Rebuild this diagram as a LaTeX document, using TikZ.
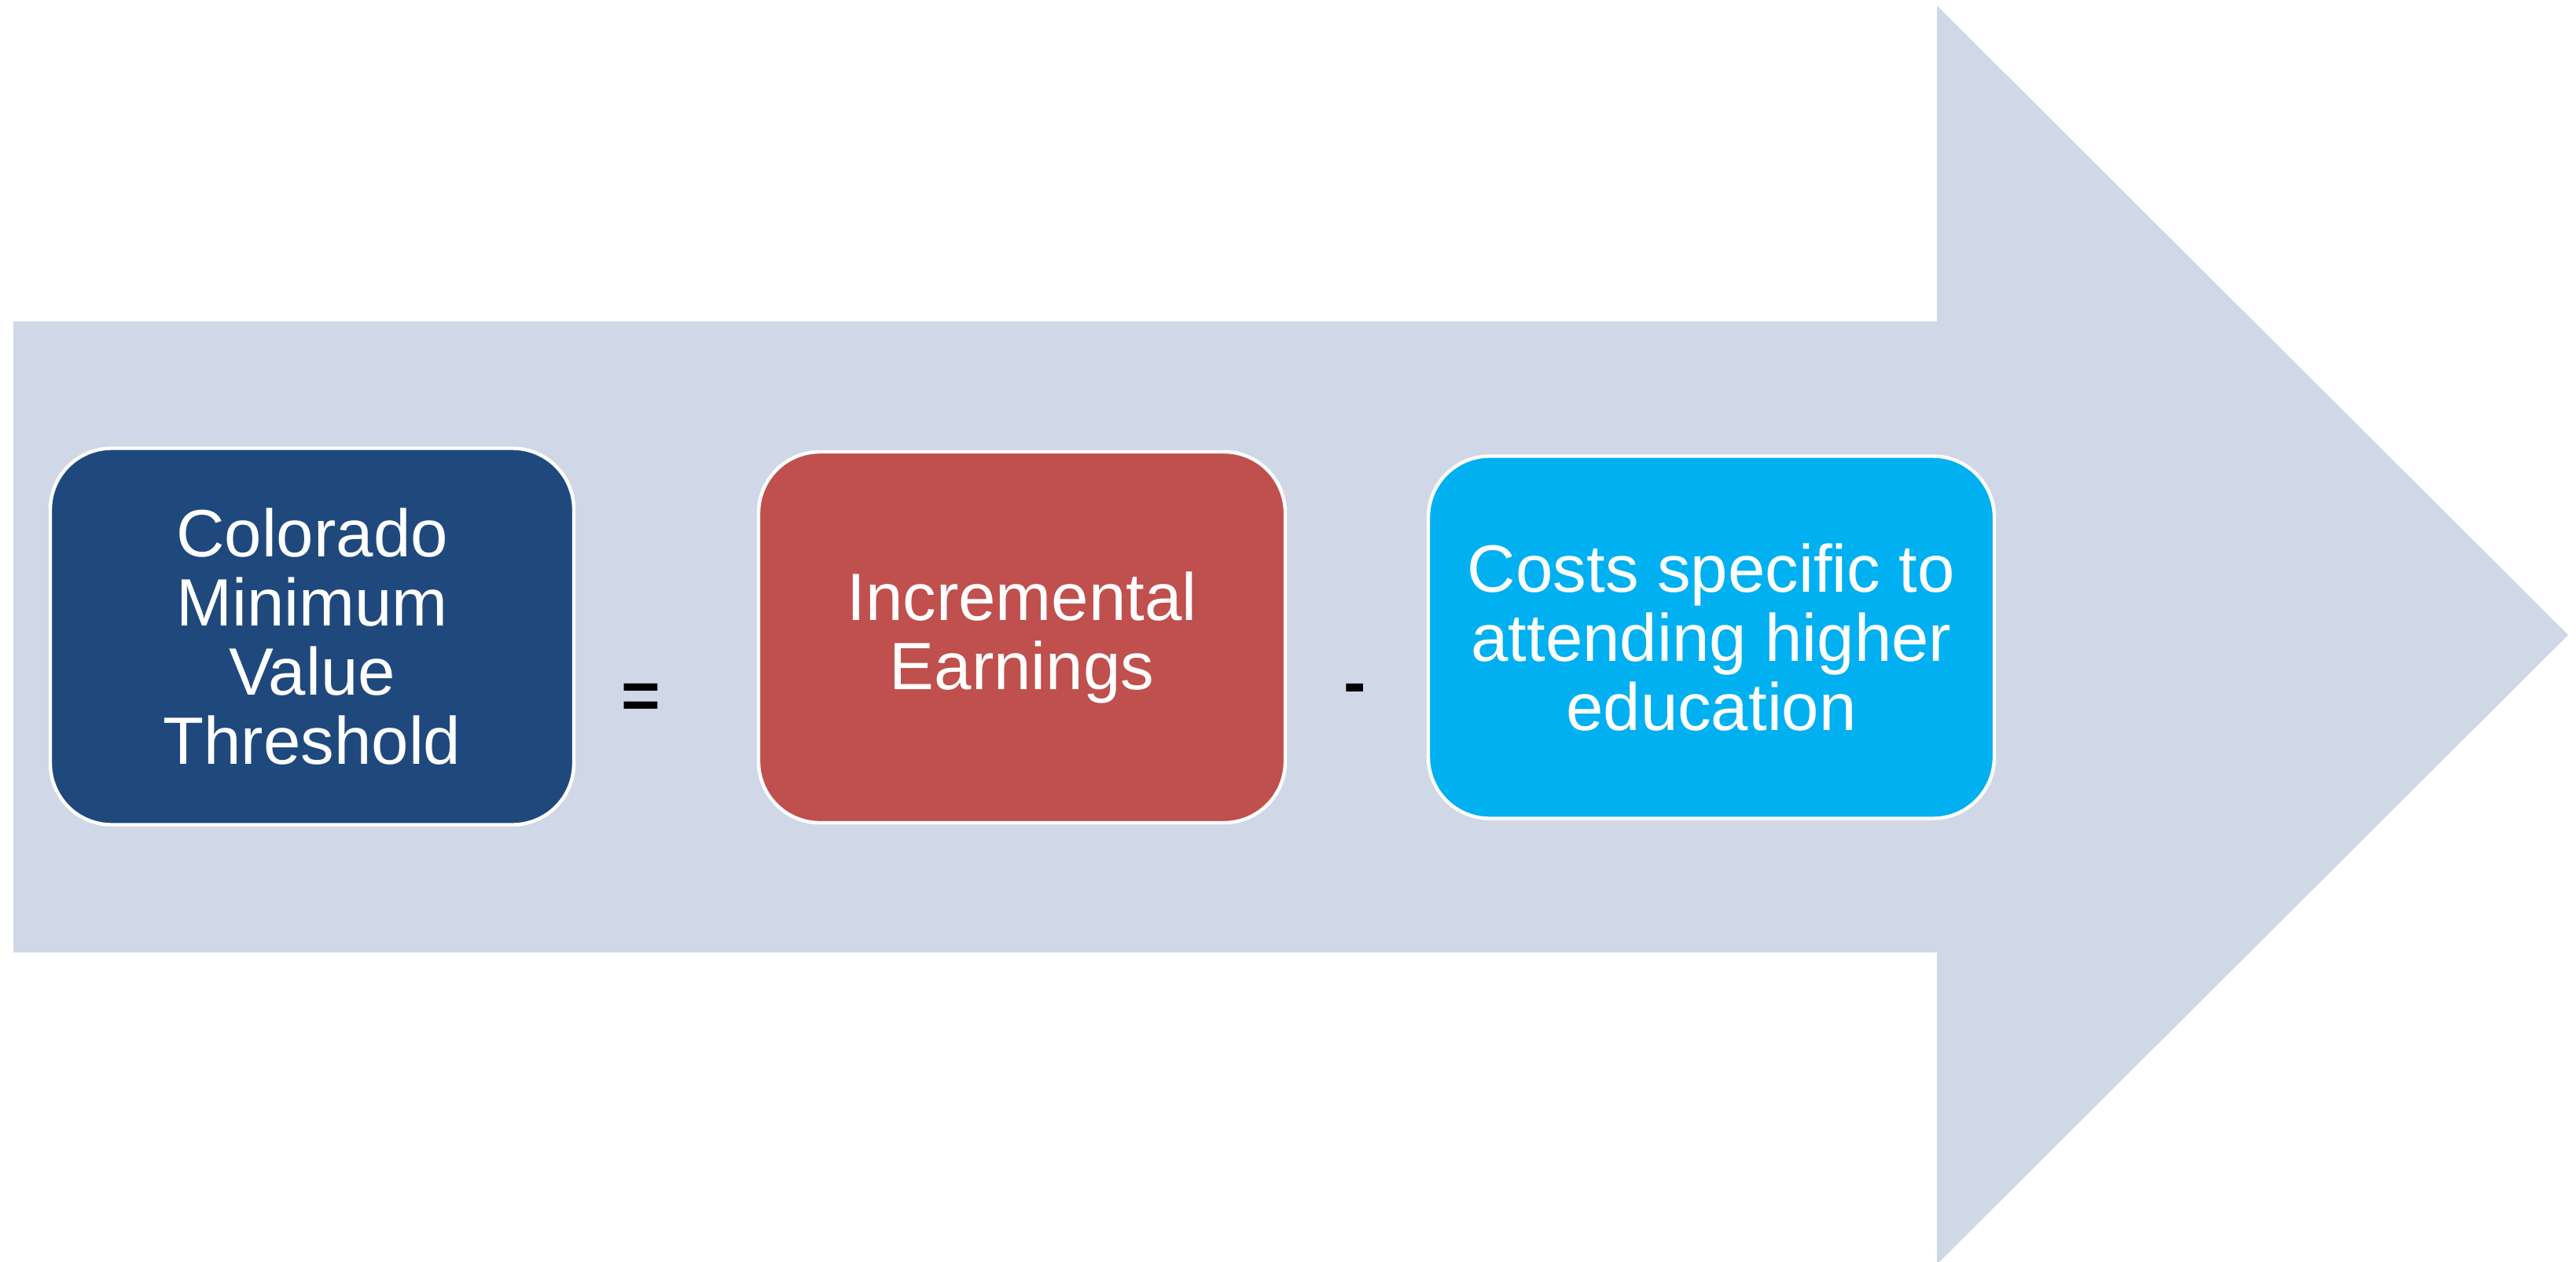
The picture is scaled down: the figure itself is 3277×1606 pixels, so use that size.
\documentclass[tikz,border=0pt]{standalone}
\usepackage{fontspec}
\setmainfont{Liberation Sans}
\definecolor{arrowfill}{HTML}{D0D8E8}
\definecolor{navybox}{HTML}{1F497D}
\definecolor{redbox}{HTML}{C0504D}
\definecolor{cyanbox}{HTML}{00B0F0}
\begin{document}
\begin{tikzpicture}[x=0.25pt,y=-0.25pt,
  termbox/.style={draw=white, line width=1.1pt, rounded corners=19.5pt,
    text=white, align=center, inner sep=0pt,
    font=\fontsize{21.3pt}{22pt}\selectfont},
  opsign/.style={text=black, inner sep=0pt, font=\fontsize{21.3pt}{22pt}\selectfont\bfseries}]
\useasboundingbox (0,0) rectangle (3277,1606);
\fill[arrowfill] (17,409) -- (2464,409) -- (2464,7) -- (3267,808) -- (2464,1609)
  -- (2464,1212) -- (17,1212) -- cycle;
\node[termbox, fill=navybox, minimum width=166.5pt, minimum height=119.75pt]
  (cmvt) at (397,810) {Colorado\\Minimum\\Value\\Threshold};
\node[termbox, fill=redbox, minimum width=167.5pt, minimum height=118pt]
  (earn) at (1300,811) {Incremental\\Earnings};
\node[termbox, fill=cyanbox, minimum width=180pt, minimum height=115.25pt]
  (costs) at (2177,811) {Costs specific to\\attending higher\\education};
\node[opsign] (eq) at (815,892) {=};
\node[opsign] (minus) at (1724,884) {-};
\end{tikzpicture}
\end{document}
